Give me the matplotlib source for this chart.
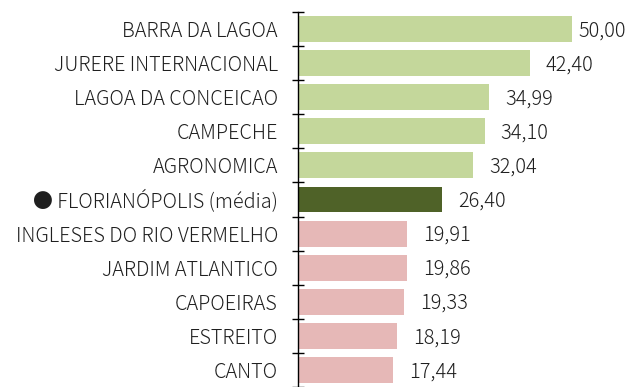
import matplotlib
matplotlib.use("Agg")
import matplotlib.pyplot as plt
import numpy as np

plt.rcParams["font.family"] = ["Noto Sans CJK JP", "DejaVu Sans"]

bairros = [
    "BARRA DA LAGOA",
    "JURERE INTERNACIONAL",
    "LAGOA DA CONCEICAO",
    "CAMPECHE",
    "AGRONOMICA",
    "● FLORIANÓPOLIS (média)",
    "INGLESES DO RIO VERMELHO",
    "JARDIM ATLANTICO",
    "CAPOEIRAS",
    "ESTREITO",
    "CANTO",
]
valores = [50.00, 42.40, 34.99, 34.10, 32.04, 26.40, 19.91, 19.86, 19.33, 18.19, 17.44]
media = 26.40

COR_ACIMA = "#c4d79b"
COR_MEDIA = "#4f6228"
COR_ABAIXO = "#e6b8b7"
COR_TEXTO = "#1f1f1f"

cores = []
for nome, v in zip(bairros, valores):
    if "média" in nome:
        cores.append(COR_MEDIA)
    elif v > media:
        cores.append(COR_ACIMA)
    else:
        cores.append(COR_ABAIXO)

fig = plt.figure(figsize=(6.31, 3.87), dpi=100)
ax = fig.add_axes([298 / 631, 0.0, 333 / 631, 375 / 387])

pos = np.arange(len(bairros))[::-1]
ax.barh(pos, valores, height=0.76, color=cores, zorder=2)

xmax = 333 / 5.47
ax.set_xlim(0, xmax)
ax.set_ylim(-0.5, len(bairros) - 0.5)

# rótulos de valor: ~16 px depois da barra, sem passar da borda direita
px = xmax / 333
for y, v in zip(pos, valores):
    x = min(v + 16 * px, xmax - 53 * px)
    ax.text(x, y - 0.05, f"{v:.2f}".replace(".", ","), va="center", ha="left",
            fontsize=14.4, fontweight="light", color=COR_TEXTO)

for s in ["top", "right", "bottom"]:
    ax.spines[s].set_visible(False)
ax.spines["left"].set_linewidth(1.0)
ax.spines["left"].set_color("#000000")

ax.set_xticks([])
ax.set_yticks(pos)
ax.set_yticklabels(bairros, fontsize=14.3, fontweight="light", color=COR_TEXTO)
ax.tick_params(axis="y", which="major", length=0, pad=14.4)
ax.set_yticks(np.arange(-0.5, len(bairros), 1.0), minor=True)
ax.tick_params(axis="y", which="minor", direction="inout", length=8.5, width=1.0)

fig.savefig("out.png", dpi=100)
